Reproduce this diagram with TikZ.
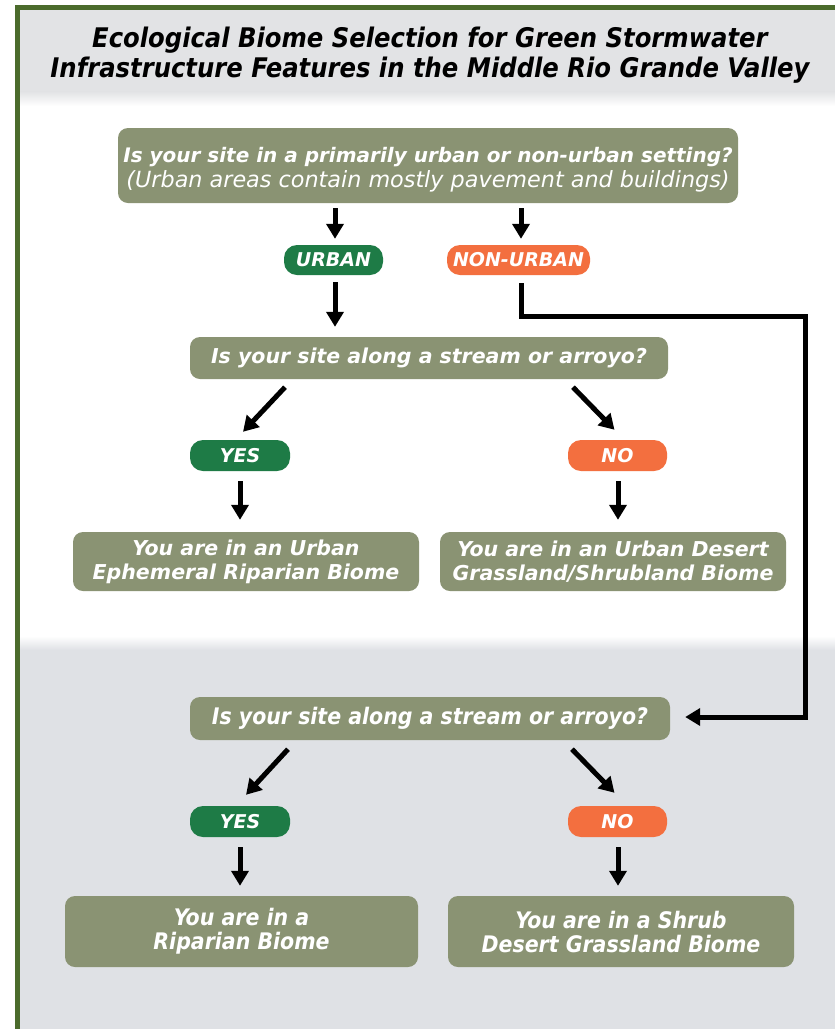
\documentclass[tikz,border=0pt]{standalone}
\usepackage{fontspec}
\setmainfont{DejaVu Sans}
\newfontfamily\cond{DejaVu Sans Condensed}
\usetikzlibrary{arrows.meta,calc}
\definecolor{olive}{RGB}{138,147,115}
\definecolor{pillgreen}{RGB}{30,123,70}
\definecolor{pillorange}{RGB}{243,111,63}
\definecolor{framegreen}{RGB}{75,107,44}
\definecolor{bandgrey}{RGB}{223,225,229}
\definecolor{titlegrey}{RGB}{226,227,229}
\tikzset{
  box/.style={fill=olive, rounded corners=10pt, text=white, align=center, inner sep=0pt},
  pill/.style={rounded corners=13pt, text=white, inner sep=0pt, minimum height=30pt,
    font=\bfseries\itshape\fontsize{19}{24}\selectfont},
  greenpill/.style={pill, fill=pillgreen},
  orangepill/.style={pill, fill=pillorange},
  wide/.style={font=\bfseries\itshape\fontsize{20.5}{24}\selectfont},
  narrow/.style={font=\cond\bfseries\itshape\fontsize{22.8}{24}\selectfont},
  arr/.style={line width=5pt, -{Triangle[width=17pt,length=15pt]}},
}
\begin{document}
\begin{tikzpicture}[x=1pt,y=-1pt]
\useasboundingbox (0,0) rectangle (835,1029);
% backgrounds
\fill[white] (0,0) rectangle (835,1029);
\fill[titlegrey] (17,7) rectangle (835,92);
\shade[top color=titlegrey, bottom color=white] (17,91.5) rectangle (835,106);
\shade[top color=white, bottom color=bandgrey] (17,636) rectangle (835,650);
\fill[bandgrey] (17,649.5) rectangle (835,1029);
% frame
\draw[framegreen, line width=5pt] (17,1029) -- (17,7) -- (835,7);
% title
\node[font=\cond\bfseries\itshape\fontsize{27}{30}\selectfont, align=center, text=black] (title) at (430,55)
  {Ecological Biome Selection for Green Stormwater\\Infrastructure Features in the Middle Rio Grande Valley};
% upper part
\node[box, font=\fontsize{20}{25}\selectfont, minimum width=620pt, minimum height=75pt] (q1) at (428,165.5)
  {\rule{0pt}{23pt}{\bfseries\itshape Is your site in a primarily urban or non-urban setting?}\\
   {\itshape\fontsize{22.3}{25}\selectfont (Urban areas contain mostly pavement and buildings)}};
\node[greenpill, minimum width=99pt] (urban) at (333.5,260) {URBAN};
\node[orangepill, minimum width=143pt] (nonurban) at (518.5,260) {NON-URBAN};
\node[box, wide, minimum width=478pt, minimum height=42pt] (q2) at (429,358) {Is your site along a stream or arroyo?};
\node[greenpill, minimum width=100pt, minimum height=31pt] (yes1) at (240,455.5) {YES};
\node[orangepill, minimum width=99pt, minimum height=31pt] (no1) at (617.5,455.5) {NO};
\node[box, wide, minimum width=346pt, minimum height=59pt] (r1) at (246,561.5) {You are in an Urban\\Ephemeral Riparian Biome};
\node[box, wide, minimum width=346pt, minimum height=59pt] (r2) at (613,561.5) {You are in an Urban Desert\\Grassland/Shrubland Biome};
% lower part
\node[box, narrow, minimum width=480pt, minimum height=43pt] (q3) at (430,718.5) {Is your site along a stream or arroyo?};
\node[greenpill, minimum width=100pt, minimum height=31pt] (yes2) at (240,821.5) {YES};
\node[orangepill, minimum width=99pt, minimum height=31pt] (no2) at (617.5,821.5) {NO};
\node[box, narrow, minimum width=353pt, minimum height=71pt] (r3) at (241.5,931.5) {You are in a\\Riparian Biome};
\node[box, narrow, minimum width=346pt, minimum height=71pt] (r4) at (621,931.5) {You are in a Shrub\\Desert Grassland Biome};
% connectors
\draw[arr] ($(q1.south)+(-93,5)$) -- ($(urban.north)+(1.5,-6)$);
\draw[arr] ($(q1.south)+(93,5)$) -- ($(nonurban.north)+(2.5,-6)$);
\draw[arr] ($(urban.south)+(1.5,7)$) -- ($(q2.north)+(-94,-10)$);
\coordinate (turn) at (805,316);
\draw[line width=5pt, -{Triangle[width=17pt,length=15pt]}]
  ($(nonurban.south)+(2.5,8)$) |- (turn) |- ($(q3.east)+(15,-1.5)$);
\draw[arr] ($(q2.south)+(-144,8)$) -- ($(yes1.north)+(3,-8)$);
\draw[arr] ($(q2.south)+(144,8)$) -- ($(no1.north)+(-3,-10)$);
\draw[arr] ($(yes1.south)+(0,10)$) -- ($(r1.north)+(-6,-12)$);
\draw[arr] ($(no1.south)+(0.5,10)$) -- ($(r2.north)+(5,-12)$);
\draw[arr] ($(q3.south)+(-142,9)$) -- ($(yes2.north)+(6,-11)$);
\draw[arr] ($(q3.south)+(142,9)$) -- ($(no2.north)+(-3,-13)$);
\draw[arr] ($(yes2.south)+(0,10)$) -- ($(r3.north)+(-1.5,-10)$);
\draw[arr] ($(no2.south)+(0.5,10)$) -- ($(r4.north)+(-3,-10)$);
\end{tikzpicture}
\end{document}
